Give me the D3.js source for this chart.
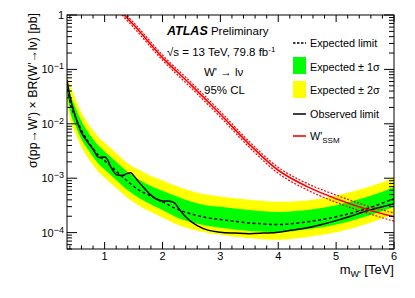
<!DOCTYPE html>
<html lang="en">
<head>
  <meta charset="UTF-8">
  <title>W' limit</title>
  <style type="text/css">
    body{ margin: 0; background: #fff; }
    svg{ font-family: "Liberation Sans", Arial, sans-serif; }
    .tick-label{ font-size: 11px; fill: black; }
    .title{ font-size: 12.5px; fill: black; }
    .info{ font-size: 11.5px; fill: black; }
    .legend text{ font-size: 10.8px; fill: black; }
  </style>
  <script type="text/javascript" src="https://d3js.org/d3.v7.min.js"></script>
</head>
<body>
<script type="text/javascript">
  // expected limit + bands (pb)
  var bandMass = [0.35, 0.4, 0.5, 0.6, 0.7, 0.8, 0.9, 1.0, 1.2, 1.4, 1.6, 1.8, 2.0, 2.25, 2.5, 2.75, 3.0, 3.5, 4.0, 4.5, 5.0, 5.5, 6.0];
  var expected = [5.6e-2, 2.6e-2, 1.3e-2, 7.6e-3, 5.0e-3, 3.5e-3, 2.6e-3, 2.1e-3, 1.35e-3, 8.7e-4, 6.0e-4, 4.7e-4, 3.7e-4, 2.7e-4, 2.2e-4, 1.9e-4, 1.74e-4, 1.51e-4, 1.41e-4, 1.58e-4, 1.95e-4, 2.7e-4, 4.2e-4];
  var minus2 = [2.8e-2, 1.26e-2, 6.5e-3, 3.7e-3, 2.45e-3, 1.74e-3, 1.29e-3, 1.02e-3, 6.6e-4, 4.3e-4, 3.1e-4, 2.4e-4, 1.9e-4, 1.41e-4, 1.15e-4, 1.0e-4, 9.1e-5, 7.9e-5, 7.4e-5, 8.3e-5, 1.02e-4, 1.41e-4, 2.2e-4];
  var minus1 = [4.0e-2, 1.8e-2, 9.1e-3, 5.2e-3, 3.5e-3, 2.45e-3, 1.8e-3, 1.45e-3, 9.3e-4, 6.0e-4, 4.3e-4, 3.3e-4, 2.6e-4, 1.9e-4, 1.55e-4, 1.35e-4, 1.23e-4, 1.07e-4, 1.02e-4, 1.15e-4, 1.41e-4, 1.95e-4, 3.0e-4];
  var plus1 = [6.8e-2, 3.8e-2, 1.95e-2, 1.12e-2, 7.4e-3, 5.2e-3, 3.9e-3, 3.1e-3, 2.0e-3, 1.29e-3, 9.3e-4, 7.2e-4, 5.9e-4, 4.6e-4, 3.7e-4, 3.2e-4, 3.0e-4, 2.6e-4, 2.4e-4, 2.6e-4, 3.2e-4, 4.4e-4, 6.8e-4];
  var plus2 = [7.9e-2, 5.4e-2, 2.8e-2, 1.6e-2, 1.07e-2, 7.6e-3, 5.6e-3, 4.5e-3, 2.9e-3, 1.86e-3, 1.41e-3, 1.1e-3, 9.1e-4, 7.1e-4, 5.8e-4, 5.0e-4, 4.6e-4, 4.0e-4, 3.7e-4, 3.9e-4, 4.8e-4, 6.6e-4, 1.02e-3];

  // observed limit (pb)
  var obsMass = [0.35, 0.4, 0.5, 0.6, 0.7, 0.8, 0.9, 1.0, 1.05, 1.1, 1.15, 1.2, 1.3, 1.4, 1.45, 1.5, 1.6, 1.7, 1.8, 1.9, 2.0, 2.1, 2.2, 2.3, 2.4, 2.5, 2.6, 2.8, 3.0, 3.25, 3.5, 3.75, 4.0, 4.25, 4.5, 4.75, 5.0, 5.25, 5.5, 5.75, 6.0];
  var observed = [6.3e-2, 3.2e-2, 1.32e-2, 6.9e-3, 4.7e-3, 3.4e-3, 2.4e-3, 2.45e-3, 2.2e-3, 1.66e-3, 1.35e-3, 1.17e-3, 1.12e-3, 1.23e-3, 1.26e-3, 1.12e-3, 8.3e-4, 6.3e-4, 4.9e-4, 4.1e-4, 3.8e-4, 3.8e-4, 3.55e-4, 2.6e-4, 1.95e-4, 1.58e-4, 1.35e-4, 1.1e-4, 1.02e-4, 9.8e-5, 9.5e-5, 9.8e-5, 1.02e-4, 1.12e-4, 1.23e-4, 1.41e-4, 1.66e-4, 2.0e-4, 2.45e-4, 2.9e-4, 3.4e-4];

  // SSM W' theory cross section (pb) with uncertainty
  var ssmMass = [1.3, 1.5, 2.0, 2.5, 3.0, 3.5, 4.0, 4.5, 5.0, 5.5, 6.0];
  var ssm = [1.1, 0.66, 0.165, 0.051, 0.015, 0.0042, 0.0014, 0.0007, 0.00042, 0.000275, 0.000195];
  var ssmHi = [1.2, 0.73, 0.183, 0.057, 0.0168, 0.0047, 0.00158, 0.0008, 0.00049, 0.00032, 0.00023];
  var ssmLo = [1.0, 0.59, 0.148, 0.045, 0.0133, 0.0037, 0.00123, 0.00061, 0.00036, 0.000235, 0.000162];

  var xMajor = [1, 2, 3, 4, 5, 6];
  var yMajor = [1e-4, 1e-3, 1e-2, 1e-1, 1];
  var yExp = ['−4', '−3', '−2', '−1', ''];

  var margin = {top: 15, right: 21, bottom: 49, left: 67};
  var width = 415 - margin.left - margin.right;
  var height = 298 - margin.top - margin.bottom;

  var svg = d3.select('body')
    .append('svg')
    .attr('width', 415)
    .attr('height', 298)
  .append('g')
    .attr('transform', 'translate(' + margin.left + ',' + margin.top + ')');

  var xScale = d3.scaleLinear().domain([0.35, 6]).range([0, width]);
  var yScale = d3.scaleLog().domain([5e-5, 1]).range([height, 0]);

  svg.append('clipPath').attr('id', 'clip')
    .append('rect').attr('width', width).attr('height', height);

  var plot = svg.append('g').attr('clip-path', 'url(#clip)');

  function band(lo, hi){
    return d3.area()
      .x(function(d, i){ return xScale(bandMass[i]); })
      .y0(function(d, i){ return yScale(lo[i]); })
      .y1(function(d, i){ return yScale(hi[i]); })
      .curve(d3.curveMonotoneX)(bandMass);
  }

  function line(xs, ys){
    return d3.line()
      .x(function(d, i){ return xScale(xs[i]); })
      .y(function(d, i){ return yScale(ys[i]); })
      .curve(d3.curveMonotoneX)(xs);
  }

  plot.append('path').attr('d', band(minus2, plus2)).attr('fill', '#ffff00');
  plot.append('path').attr('d', band(minus1, plus1)).attr('fill', '#00ff00');

  plot.append('path').attr('d', line(bandMass, expected))
    .attr('fill', 'none').attr('stroke', 'black').attr('stroke-width', 1.5)
    .attr('stroke-dasharray', '3,2.5');

  plot.append('path').attr('d', line(obsMass, observed))
    .attr('fill', 'none').attr('stroke', 'black').attr('stroke-width', 1.5);

  [ssmHi, ssmLo].forEach(function(arr){
    plot.append('path').attr('d', line(ssmMass, arr))
      .attr('fill', 'none').attr('stroke', '#ff0000').attr('stroke-width', 1.2)
      .attr('stroke-dasharray', '2,1.5');
  });
  plot.append('path').attr('d', line(ssmMass, ssm))
    .attr('fill', 'none').attr('stroke', '#ff0000').attr('stroke-width', 1.6);

  // frame
  svg.append('rect').attr('width', width).attr('height', height)
    .attr('fill', 'none').attr('stroke', 'black').attr('stroke-width', 1);

  // x ticks (bottom + top)
  var xMinor = d3.range(0.4, 6.001, 0.2);
  var ticks = svg.append('g').attr('stroke', 'black').attr('stroke-width', 1);
  xMinor.forEach(function(v){
    var major = Math.abs(v - Math.round(v)) < 1e-6;
    var len = major ? 7 : 3.5;
    var x = xScale(v);
    ticks.append('line').attr('x1', x).attr('x2', x).attr('y1', height).attr('y2', height - len);
    ticks.append('line').attr('x1', x).attr('x2', x).attr('y1', 0).attr('y2', len);
  });

  // y ticks (left + right)
  var yMinor = [];
  [-5, -4, -3, -2, -1].forEach(function(e){
    for (var k = 1; k < 10; k++) yMinor.push(k * Math.pow(10, e));
  });
  yMinor.push(1);
  yMinor.forEach(function(v){
    if (v < 5e-5 * 0.999) return;
    var lg = Math.log10(v);
    var major = Math.abs(lg - Math.round(lg)) < 1e-6;
    var len = major ? 10 : 5;
    var y = yScale(v);
    ticks.append('line').attr('x1', 0).attr('x2', len).attr('y1', y).attr('y2', y);
    ticks.append('line').attr('x1', width).attr('x2', width - len).attr('y1', y).attr('y2', y);
  });

  // tick labels
  svg.selectAll('.xl').data(xMajor).enter().append('text')
    .attr('class', 'tick-label')
    .attr('x', function(d){ return xScale(d); })
    .attr('y', height + 11)
    .attr('text-anchor', 'middle')
    .text(function(d){ return d; });

  yMajor.forEach(function(v, i){
    var t = svg.append('text').attr('class', 'tick-label')
      .attr('x', -3).attr('y', yScale(v) + 4).attr('text-anchor', 'end');
    if (v === 1) { t.text('1'); return; }
    t.append('tspan').text('10');
    t.append('tspan').attr('dy', -4).style('font-size', '9px').text(yExp[i]);
  });

  // axis titles
  var xt = svg.append('text').attr('class', 'title').style('font-size', '13px')
    .attr('x', width).attr('y', height + 25).attr('text-anchor', 'end');
  xt.append('tspan').text('m');
  xt.append('tspan').attr('dy', 3).style('font-size', '9px').text('W\'');
  xt.append('tspan').attr('dy', -3).text(' [TeV]');

  svg.append('text').attr('class', 'title')
    .attr('transform', 'translate(' + (-30) + ',' + (-2) + ') rotate(-90)')
    .attr('text-anchor', 'end')
    .attr('textLength', 155)
    .attr('lengthAdjust', 'spacingAndGlyphs')
    .text('σ(pp→W\') × BR(W\'→lν) [pb]');

  // info text
  var atl = svg.append('text').attr('class', 'info').attr('x', 100).attr('y', 20);
  atl.append('tspan').style('font-weight', 'bold').style('font-style', 'italic').style('font-size', '12.5px').text('ATLAS');
  atl.append('tspan').text(' Preliminary');

  var lum = svg.append('text').attr('class', 'info').attr('x', 100).attr('y', 41);
  lum.append('tspan').text('√s = 13 TeV, 79.8 fb');
  lum.append('tspan').attr('dy', -4).style('font-size', '8px').text('-1');

  svg.append('text').attr('class', 'info').attr('x', 137).attr('y', 61).text('W\' → lν');
  svg.append('text').attr('class', 'info').attr('x', 137).attr('y', 79).text('95% CL');

  // legend
  var lx = 226, tx = 243;
  var legend = svg.append('g').attr('class', 'legend');
  legend.append('line').attr('x1', lx).attr('x2', lx + 13).attr('y1', 28).attr('y2', 28)
    .attr('stroke', 'black').attr('stroke-width', 1.5).attr('stroke-dasharray', '2.5,1.5');
  legend.append('text').attr('x', tx).attr('y', 32).text('Expected limit');

  legend.append('rect').attr('x', lx).attr('y', 42).attr('width', 13).attr('height', 17).attr('fill', '#00ff00');
  legend.append('text').attr('x', tx).attr('y', 56).text('Expected ± 1σ');

  legend.append('rect').attr('x', lx).attr('y', 66).attr('width', 13).attr('height', 17).attr('fill', '#ffff00');
  legend.append('text').attr('x', tx).attr('y', 79).text('Expected ± 2σ');

  legend.append('line').attr('x1', lx).attr('x2', lx + 13).attr('y1', 99).attr('y2', 99)
    .attr('stroke', 'black').attr('stroke-width', 1.5);
  legend.append('text').attr('x', tx).attr('y', 103).text('Observed limit');

  legend.append('line').attr('x1', lx).attr('x2', lx + 13).attr('y1', 121).attr('y2', 121)
    .attr('stroke', '#ff0000').attr('stroke-width', 1.6);
  var ws = legend.append('text').attr('x', tx).attr('y', 125);
  ws.append('tspan').text('W\'');
  ws.append('tspan').attr('dy', 3).style('font-size', '8px').text('SSM');
</script>
</body>
</html>
